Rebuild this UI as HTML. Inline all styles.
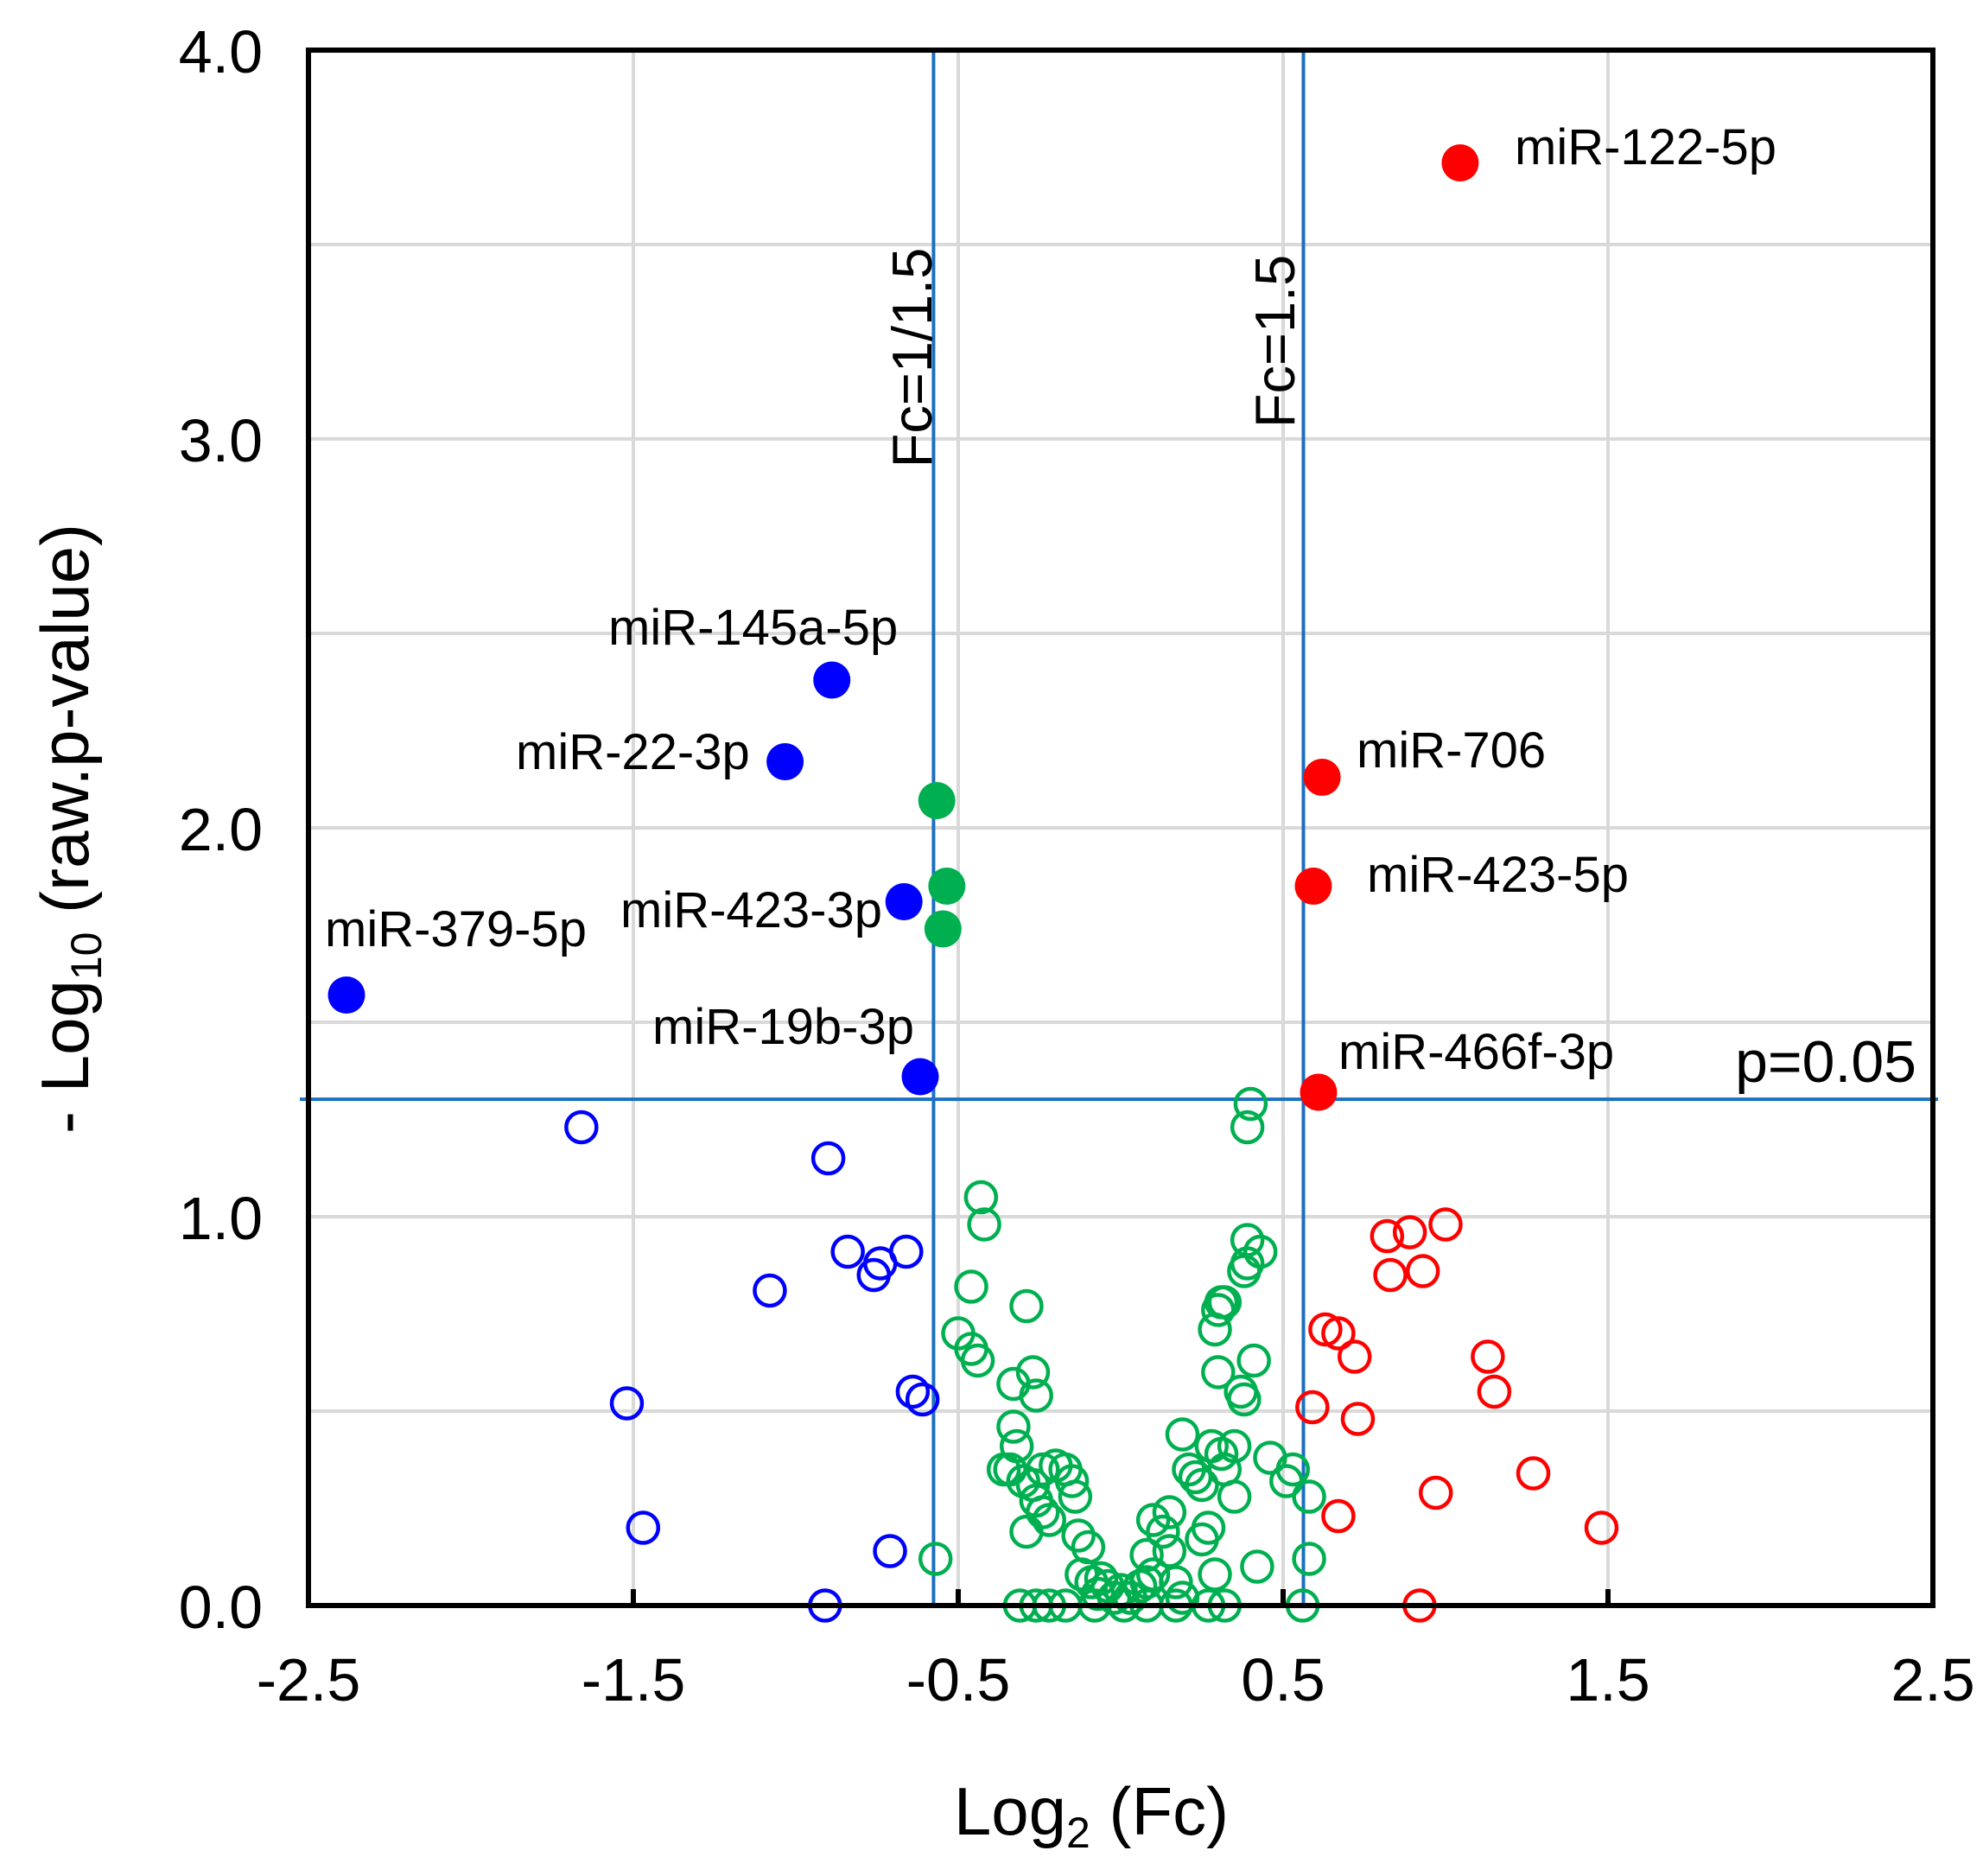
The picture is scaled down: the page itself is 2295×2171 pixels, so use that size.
<!DOCTYPE html>
<html><head><meta charset="utf-8">
<style>
html,body{margin:0;padding:0;background:#fff;}
svg{display:block;font-family:"Liberation Sans",Arial,sans-serif;}
</style></head>
<body>
<svg id="chart" width="2295" height="2171" viewBox="0 0 2295 2171" xmlns="http://www.w3.org/2000/svg">
<g id="grid"></g>
<g id="refs"></g>
<g id="pts"></g>
<g id="axes"></g>
<g id="labels"></g>
</svg>
<script>
const xTicks = [-2.5, -1.5, -0.5, 0.5, 1.5, 2.5];
const xTickLabels = ["-2.5", "-1.5", "-0.5", "0.5", "1.5", "2.5"];
const yTicks = [0, 1, 2, 3, 4];
const yTickLabels = ["0.0", "1.0", "2.0", "3.0", "4.0"];
const xGrid = [-1.5, -0.5, 0.5, 1.5];
const yGrid = [0.5, 1.0, 1.5, 2.0, 2.5, 3.0, 3.5];
const fcLines = [-0.576, 0.5625];
const fcLineLabels = ["Fc=1/1.5", "Fc=1.5"];
const pLine = 1.302;

const sigUpNames = ["miR-122-5p", "miR-706", "miR-423-5p", "miR-466f-3p"];
const sigUpX = [1.045, 0.62, 0.593, 0.609];
const sigUpY = [3.71, 2.13, 1.85, 1.32];

const sigDownNames = ["miR-145a-5p", "miR-22-3p", "miR-423-3p", "miR-379-5p", "miR-19b-3p"];
const sigDownX = [-0.889, -1.033, -0.667, -2.383, -0.617];
const sigDownY = [2.38, 2.17, 1.81, 1.57, 1.36];

const sigMidX = [-0.566, -0.535, -0.547];
const sigMidY = [2.07, 1.85, 1.74];

const openBlueX = [-1.66, -0.90, -0.84, -0.76, -0.74, -0.66, -1.08, -1.52, -0.64, -0.61, -1.47, -0.71, -0.91];
const openBlueY = [1.23, 1.15, 0.91, 0.85, 0.88, 0.91, 0.81, 0.52, 0.55, 0.53, 0.20, 0.14, 0.00];

const openRedX = [0.82, 0.89, 1.00, 0.83, 0.93, 0.63, 0.67, 0.72, 1.13, 1.15, 0.59, 0.73, 1.27, 0.97, 0.67, 1.48, 0.92];
const openRedY = [0.95, 0.96, 0.98, 0.85, 0.86, 0.71, 0.70, 0.64, 0.64, 0.55, 0.51, 0.48, 0.34, 0.29, 0.23, 0.20, 0.00];

const openGreenX = [-0.43,-0.42,0.40,0.39,-0.46,-0.29,-0.50,-0.46,-0.44,-0.33,-0.27,-0.26,0.39,0.43,0.39,0.38,0.31,0.32,0.30,0.29,0.41,0.30,0.37,0.38,-0.33,-0.32,-0.34,-0.36,-0.30,-0.27,-0.26,-0.24,-0.20,-0.17,-0.15,-0.14,-0.24,-0.22,-0.29,-0.13,-0.10,-0.12,-0.09,-0.06,-0.04,-0.07,-0.02,0.00,0.03,0.06,0.08,0.10,0.08,0.10,0.13,0.15,0.19,0.21,0.23,0.25,0.28,0.31,0.35,0.32,0.35,0.27,0.25,0.29,0.42,0.46,0.51,0.53,0.58,0.58,-0.57,0.15,0.17,0.19,-0.31,-0.26,-0.22,-0.17,-0.08,0.01,0.08,0.17,0.27,0.32,0.56];
const openGreenY = [1.05,0.98,1.29,1.23,0.82,0.77,0.70,0.66,0.63,0.57,0.60,0.54,0.94,0.91,0.88,0.86,0.78,0.78,0.76,0.71,0.63,0.60,0.55,0.53,0.46,0.41,0.35,0.35,0.32,0.31,0.27,0.35,0.36,0.35,0.32,0.28,0.24,0.22,0.19,0.18,0.15,0.08,0.06,0.07,0.05,0.03,0.02,0.04,0.02,0.05,0.06,0.08,0.13,0.22,0.19,0.14,0.44,0.35,0.33,0.31,0.41,0.39,0.41,0.35,0.28,0.20,0.17,0.08,0.10,0.38,0.32,0.35,0.28,0.12,0.12,0.24,0.06,0.02,0,0,0,0,0,0,0,0,0,0,0];

const upLabelPos = [[1753,190],[1570,888],[1582,1032],[1549,1237]];
const downLabelPos = [[704,746],[597,890],[718,1073],[376,1095],[755,1208]];

const X0 = 357, X1 = 2237, Y0 = 58, Y1 = 1858;
const sx = v => X0 + (v + 2.5) / 5 * (X1 - X0);
const sy = v => Y1 - v / 4 * (Y1 - Y0);
const NS = "http://www.w3.org/2000/svg";
function mk(parent, tag, attrs, text) {
  const e = document.createElementNS(NS, tag);
  for (const k in attrs) e.setAttribute(k, attrs[k]);
  if (text !== undefined) e.textContent = text;
  parent.appendChild(e);
  return e;
}
const G = id => document.getElementById(id);

xGrid.forEach(v => {
  const l = mk(G('grid'), 'line', {x1: sx(v), x2: sx(v), y1: Y0, y2: Y1, stroke: '#d9d9d9', 'stroke-width': 4});
  
  
});
yGrid.forEach(v => {
  const l = mk(G('grid'), 'line', {x1: X0, x2: X1, y1: sy(v), y2: sy(v), stroke: '#d9d9d9', 'stroke-width': 4});
  
  
});

fcLines.forEach((v, i) => {
  const l = mk(G('refs'), 'line', {x1: sx(v), x2: sx(v), y1: Y0, y2: Y1, stroke: '#1b6fc2', 'stroke-width': 4});
  
  
});
const pl = mk(G('refs'), 'line', {x1: X0 - 10, x2: X1 + 6, y1: sy(pLine), y2: sy(pLine), stroke: '#1b6fc2', 'stroke-width': 4});



function openPts(xs, ys, color, name) {
  xs.forEach((x, i) => {
    const c = mk(G('pts'), 'circle', {cx: sx(x), cy: sy(ys[i]), r: 17.5, fill: 'none', stroke: color, 'stroke-width': 4.5});
    
    
  });
}
function fillPts(xs, ys, color, name) {
  xs.forEach((x, i) => {
    const c = mk(G('pts'), 'circle', {cx: sx(x), cy: sy(ys[i]), r: 21.5, fill: color});
    
    
  });
}
openPts(openGreenX, openGreenY, '#00b050', 'nonsig-point');
openPts(openBlueX, openBlueY, '#0000ff', 'down-point');
openPts(openRedX, openRedY, '#ff0000', 'up-point');
fillPts(sigMidX, sigMidY, '#00b050', 'sig-unchanged-point');
fillPts(sigDownX, sigDownY, '#0000ff', 'sig-down-point');
fillPts(sigUpX, sigUpY, '#ff0000', 'sig-up-point');

const ax = G('axes');
const frame = mk(ax, 'rect', {x: X0, y: Y0, width: X1 - X0, height: Y1 - Y0, fill: 'none', stroke: '#000', 'stroke-width': 6});


xTicks.forEach((v, i) => {
  const t = mk(ax, 'line', {x1: sx(v), x2: sx(v), y1: Y1, y2: Y1 - 19, stroke: '#000', 'stroke-width': 6});
  
  
  const lb = mk(ax, 'text', {x: sx(v), y: 1968, 'font-size': 70, 'text-anchor': 'middle', fill: '#000'}, xTickLabels[i]);
  
  
});
yTicks.forEach((v, i) => {
  const lb = mk(ax, 'text', {x: 304, y: sy(v) + 26, 'font-size': 70, 'text-anchor': 'end', fill: '#000'}, yTickLabels[i]);
  
  
});
const xt = mk(ax, 'text', {x: 1263, y: 2123, 'font-size': 78, 'text-anchor': 'middle', fill: '#000'});


xt.innerHTML = 'Log<tspan font-size="50" dy="15">2</tspan><tspan dy="-15"> (Fc)</tspan>';
const yt = mk(ax, 'text', {x: 0, y: 0, 'font-size': 78, 'text-anchor': 'middle', fill: '#000', transform: 'translate(102,959) rotate(-90)'});


yt.innerHTML = '- Log<tspan font-size="50" dy="15">10</tspan><tspan dy="-15"> (raw.p-value)</tspan>';

const lg = G('labels');
sigUpNames.forEach((n, i) => {
  const t = mk(lg, 'text', {x: upLabelPos[i][0], y: upLabelPos[i][1], 'font-size': 58, fill: '#000'}, n);
  
  
});
sigDownNames.forEach((n, i) => {
  const t = mk(lg, 'text', {x: downLabelPos[i][0], y: downLabelPos[i][1], 'font-size': 58, fill: '#000'}, n);
  
  
});
const fcPos = [[1056, 414], [1476, 395]];
fcLineLabels.forEach((n, i) => {
  const t = mk(lg, 'text', {x: 0, y: 0, 'font-size': 65, 'text-anchor': 'middle', fill: '#000', transform: `translate(${fcPos[i][0] + 22},${fcPos[i][1]}) rotate(-90)`}, n);
  
  
});
const pt = mk(lg, 'text', {x: 2218, y: 1252, 'font-size': 68, 'text-anchor': 'end', fill: '#000'}, 'p=0.05');


</script>
</body></html>
